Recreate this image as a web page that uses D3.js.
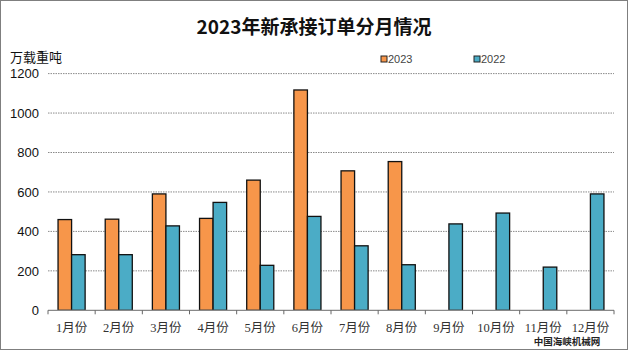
<!DOCTYPE html>
<html>
<head>
<meta charset="utf-8">
<script src="https://cdn.jsdelivr.net/npm/d3@7"></script>
<style>
  html, body { margin: 0; padding: 0; background: #fff; }
  svg { display: block; }
</style>
</head>
<body>
<svg id="chart" width="628" height="350"></svg>
<script>
// Monthly new shipbuilding orders, 10k DWT
const months = ["1月份","2月份","3月份","4月份","5月份","6月份","7月份","8月份","9月份","10月份","11月份","12月份"];
const series = ["2023", "2022"];
const values2023 = [460, 462, 590, 466, 660, 1117, 707, 754, null, null, null, null];
const values2022 = [282, 282, 428, 547, 228, 476, 327, 231, 438, 493, 219, 590];
const yTicks = [0, 200, 400, 600, 800, 1000, 1200];
const colors = { "2023": "#F7964A", "2022": "#4BACC6" };

const svg = d3.select("#chart");
const W = 628, H = 350;
const margin = { left: 48, right: 14, top: 73.6, bottom: 39.7 };
const plotW = W - margin.left - margin.right;
const plotH = H - margin.top - margin.bottom;

// frame around the whole chart
svg.append("rect").attr("x", 0.5).attr("y", 0.5).attr("width", W - 1).attr("height", H - 1)
  .attr("fill", "#fff").attr("stroke", "#7f7f7f").attr("stroke-width", 1);

svg.append("text").attr("x", 314).attr("y", 34).attr("text-anchor", "middle")
  .attr("font-family", "'Noto Sans CJK SC', sans-serif").attr("font-weight", "bold")
  .attr("font-size", 19).attr("fill", "#111").text("2023年新承接订单分月情况");

svg.append("text").attr("x", 10).attr("y", 62)
  .attr("font-family", "'Noto Sans CJK SC', sans-serif")
  .attr("font-size", 13).attr("fill", "#111").text("万载重吨");

const g = svg.append("g").attr("transform", `translate(${margin.left},${margin.top})`);

const x0 = d3.scaleBand().domain(months).range([0, plotW]).paddingInner(0).paddingOuter(0);
const x1 = d3.scaleBand().domain(series).range([x0.bandwidth() * 0.213, x0.bandwidth() * 0.787]);
const y = d3.scaleLinear().domain([0, 1200]).range([plotH, 0]);

// dotted gridlines
g.append("g").selectAll("line").data(yTicks.filter(d => d > 0)).join("line")
  .attr("x1", 0).attr("x2", plotW)
  .attr("y1", d => y(d)).attr("y2", d => y(d))
  .attr("stroke", "#8a8a8a").attr("stroke-width", 1).attr("stroke-dasharray", "1.5,1");

// y tick labels
const yAxis = d3.axisLeft(y).tickValues(yTicks).tickFormat(d3.format("d")).tickSize(0).tickPadding(9);
const ya = g.append("g").call(yAxis);
ya.select(".domain").remove();
ya.selectAll("text").attr("font-family", "'Liberation Sans', Arial, sans-serif")
  .attr("font-size", 13).attr("fill", "#111");

// bars
const rows = months.map((m, i) => ({ m, vals: [
  { s: "2023", v: values2023[i] }, { s: "2022", v: values2022[i] } ] }));
const groups = g.append("g").selectAll("g").data(rows).join("g")
  .attr("transform", d => `translate(${x0(d.m)},0)`);
groups.selectAll("rect").data(d => d.vals.filter(e => e.v != null)).join("rect")
  .attr("x", d => x1(d.s)).attr("width", x1.bandwidth())
  .attr("y", d => y(d.v)).attr("height", d => plotH - y(d.v))
  .attr("fill", d => colors[d.s]).attr("stroke", "#111").attr("stroke-width", 1.3);

// category axis with ticks between months
const xa = g.append("g").attr("transform", `translate(0,${plotH})`);
xa.append("line").attr("x1", 0).attr("x2", plotW).attr("stroke", "#888").attr("stroke-width", 1.3);
xa.selectAll("line.tk").data(d3.range(months.length + 1)).join("line").attr("class", "tk")
  .attr("x1", i => i * x0.bandwidth()).attr("x2", i => i * x0.bandwidth())
  .attr("y1", 0).attr("y2", 4).attr("stroke", "#666");
xa.selectAll("text").data(months).join("text")
  .attr("x", d => x0(d) + x0.bandwidth() / 2).attr("y", 22).attr("text-anchor", "middle")
  .attr("font-family", "'Liberation Serif', 'Noto Sans CJK SC', serif")
  .attr("font-size", 12.5).attr("fill", "#333").text(d => d);

// legend
const legend = svg.append("g");
const legendX = { "2023": 381, "2022": 474 };
series.forEach(s => {
  legend.append("rect").attr("x", legendX[s]).attr("y", 56).attr("width", 6).attr("height", 6)
    .attr("fill", colors[s]).attr("stroke", "#222").attr("stroke-width", 1);
  legend.append("text").attr("x", legendX[s] + 7).attr("y", 63)
    .attr("font-family", "'Liberation Sans', Arial, sans-serif")
    .attr("font-size", 11).attr("fill", "#444").text(s);
});

svg.append("text").attr("x", 567).attr("y", 345).attr("text-anchor", "middle")
  .attr("font-family", "'Noto Sans CJK SC', sans-serif").attr("font-weight", "bold")
  .attr("font-size", 9.5).attr("fill", "#222").text("中国海峡机械网");
</script>
</body>
</html>
